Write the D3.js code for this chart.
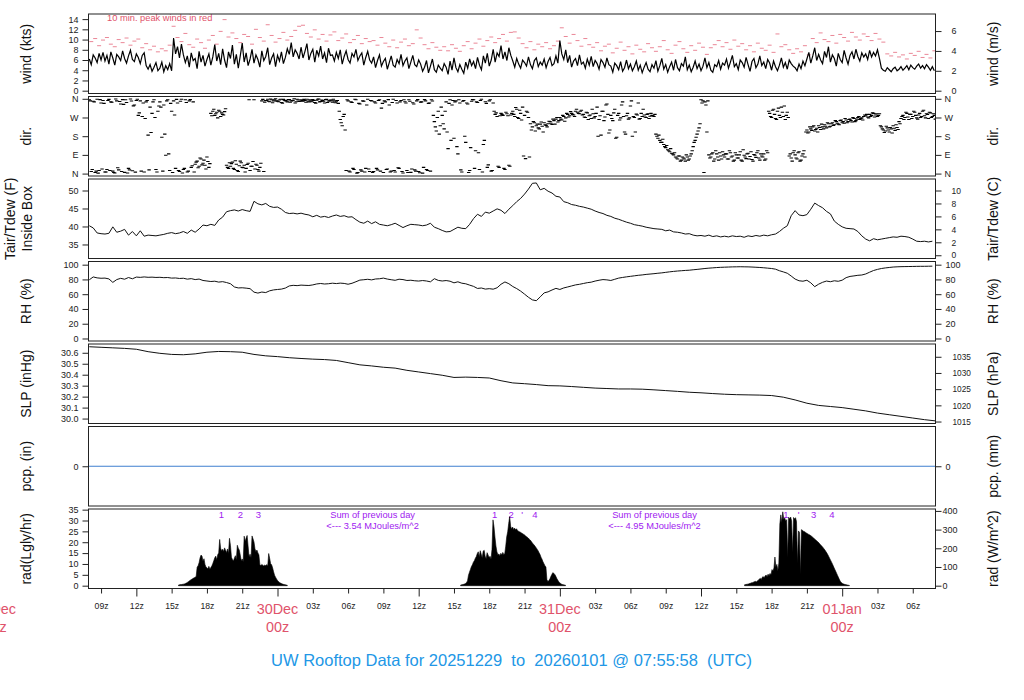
<!DOCTYPE html>
<html>
<head>
<meta charset="utf-8">
<script src="https://cdn.jsdelivr.net/npm/d3@7/dist/d3.min.js"></script>
<style>
html,body{margin:0;padding:0;background:#fff;}
svg{display:block;}
</style>
</head>
<body>
<svg id="chart" width="1024" height="700"></svg>
<script>
// ================= DATA =================
const startTime = "2025-12-29T07:55:58Z";
const endTime   = "2026-01-01T07:55:58Z";
const titleText = "UW Rooftop Data for 20251229  to  20260101 @ 07:55:58  (UTC)";

// wind speed (kts), 10-minute values
const windStart = "2025-12-29T08:00:00Z";
const windStepMin = 10;
const windKts = [
 6.2,5.1,7.0,6.4,5.5,7.3,6.0,7.5,5.8,6.9,5.2,7.6,6.4,5.0,7.1,6.6,5.9,7.8,6.3,5.4,6.8,7.9,6.1,5.7,7.2,6.5,5.3,6.9,7.4,4.9,4.2,5.1,3.8,4.6,5.5,3.9,
 4.4,5.6,3.7,4.9,4.1,5.3,3.9,10.3,7.2,8.6,6.4,9.1,7.0,5.5,6.8,4.6,7.4,5.9,6.3,4.3,7.7,5.6,6.9,4.8,6.1,7.2,5.0,6.6,9.0,5.8,7.3,5.1,8.2,6.0,4.5,7.6,
 6.3,8.9,5.2,7.1,4.4,6.8,9.3,5.6,7.4,4.9,6.2,8.1,5.4,7.0,6.1,4.6,7.8,5.9,6.7,8.4,5.1,6.4,7.2,4.7,6.9,5.8,7.6,5.3,6.5,8.2,7.1,9.4,6.6,8.0,7.3,6.2,
 8.5,6.4,7.7,9.2,6.0,7.3,8.1,5.6,7.9,6.8,8.7,6.2,7.4,5.5,8.3,6.9,7.0,5.8,7.5,6.3,8.0,5.2,6.7,7.8,6.1,5.4,7.3,6.6,8.1,5.9,6.8,7.4,5.0,6.5,7.7,6.0,
 5.4,6.6,4.5,5.9,7.0,4.8,5.7,6.3,4.2,5.5,6.8,5.0,4.6,6.1,5.3,7.1,4.9,5.8,6.4,4.3,5.6,6.9,5.1,4.7,6.0,5.2,3.8,4.6,5.9,3.5,4.8,6.2,4.1,3.6,5.0,4.4,
 3.9,5.3,4.6,3.2,5.8,4.0,6.4,4.5,3.7,5.1,4.2,3.4,5.6,4.4,6.2,4.9,5.7,4.3,6.5,5.0,4.1,6.8,5.4,7.3,4.8,6.0,8.1,5.6,7.4,6.7,8.8,6.2,7.6,5.9,8.4,6.9,
 5.8,4.6,6.3,5.2,4.4,6.0,5.5,4.8,6.6,5.1,4.3,5.9,6.4,4.7,5.6,5.0,6.2,4.5,5.7,6.5,4.9,5.3,6.8,5.4,9.8,7.2,6.1,8.0,5.5,6.9,4.6,5.8,6.3,4.9,7.0,5.2,
 5.6,4.4,6.2,5.0,6.7,4.7,5.9,5.3,4.2,6.1,5.5,4.6,6.4,5.1,4.8,3.6,5.4,4.9,4.1,5.7,3.8,4.5,6.0,4.3,5.2,3.9,4.7,5.8,4.0,5.0,3.5,4.6,5.5,4.2,3.7,5.1,
 4.4,5.9,3.8,4.9,6.3,4.2,5.1,3.6,4.7,5.6,4.0,6.1,4.5,3.9,5.3,4.8,6.6,4.1,5.0,3.7,4.6,5.8,4.3,5.2,3.9,4.8,6.4,4.5,5.5,4.0,3.6,5.1,4.7,5.9,4.2,5.4,
 5.0,6.2,4.4,5.6,6.9,4.7,5.3,4.1,6.0,5.5,4.6,6.5,5.1,3.8,5.7,6.3,4.5,5.2,6.8,4.9,5.6,4.3,6.1,5.4,4.0,5.8,4.7,3.9,5.0,6.4,4.6,5.5,4.2,6.0,5.3,4.8,
 4.5,3.9,5.2,4.3,5.8,4.9,6.2,7.5,5.4,6.8,8.4,5.9,7.1,6.0,5.3,7.7,6.5,8.6,5.6,7.0,6.3,4.8,7.3,6.1,5.5,7.9,6.4,5.2,6.9,7.6,6.2,8.1,6.7,5.8,7.4,6.6,
 7.2,6.1,7.9,6.6,7.5,6.8,8.0,6.3,4.4,4.0,3.8,4.5,4.1,3.7,4.3,4.6,3.9,4.2,4.7,4.0,4.4,4.9,4.1,5.0,4.5,4.2,4.8,5.2,4.4,4.9,4.3,5.1,4.6,4.0,4.7,3.9
];

// 10-minute peak winds (kts), plotted every 20 minutes
const peakStart = "2025-12-29T08:10:00Z";
const peakStepMin = 20;
const peakKts = [
 9.6,10.2,8.8,9.9,10.4,9.1,8.6,10.0,9.4,10.3,8.9,9.7,10.1,8.4,9.2,8.0,8.7,7.6,
 8.2,7.8,8.9,12.6,10.4,9.6,11.2,9.0,8.5,10.1,9.4,8.3,9.9,10.8,9.1,11.6,13.9,10.5,
 11.3,10.2,9.4,11.0,10.6,9.1,12.0,10.4,9.7,12.9,10.8,9.5,10.2,11.4,9.9,10.6,11.8,12.6,
 12.8,11.2,10.5,11.9,10.1,11.0,9.7,10.9,11.5,9.8,10.3,11.1,9.4,10.0,10.8,9.2,10.2,9.6,
 9.8,8.9,10.4,9.3,8.6,9.9,8.4,9.5,10.1,8.8,9.2,11.9,10.3,9.0,8.2,9.4,8.5,7.9,
 8.6,7.8,9.0,8.3,7.7,8.8,9.6,8.2,9.3,10.1,8.7,9.8,10.5,9.4,10.2,11.0,9.7,11.4,
 11.5,10.3,9.2,8.4,9.6,8.0,9.1,8.6,9.4,8.2,8.8,9.7,12.3,10.6,9.3,11.0,9.8,8.7,
 10.2,9.0,8.5,9.4,7.8,8.7,9.1,7.4,8.3,9.5,7.9,8.6,7.2,8.9,8.1,7.6,9.2,8.4,
 7.7,8.6,9.8,8.0,7.3,8.9,9.6,8.2,7.5,8.8,7.9,9.3,8.5,7.1,8.4,9.0,9.8,8.6,
 9.4,8.1,9.9,8.7,9.2,8.0,8.8,7.6,9.3,8.3,7.9,8.9,7.5,11.1,8.6,9.0,8.0,7.3,
 8.2,7.6,8.8,7.0,10.2,9.4,11.3,10.0,9.6,10.8,9.3,11.0,10.4,9.7,11.4,10.5,9.9,11.1,
 10.6,9.8,11.2,10.1,9.5,7.2,6.8,7.5,6.6,7.0,6.2,7.3,6.9,7.7,6.5,7.1,6.4,7.8
];

// wind direction (degrees): 10-minute values and the samples 5 minutes later
const dirStart = "2025-12-29T08:00:00Z";
const dirStart2 = "2025-12-29T08:05:00Z";
const dirStepMin = 10;
const dirDeg = [
 355,10,348,5,358,15,340,352,8,20,357,345,12,3,350,18,335,356,6,342,25,359,14,330,352,280,350,275,8,345,185,320,290,355,20,300,
 345,175,330,88,355,15,300,350,25,340,10,358,20,355,8,350,30,345,45,60,35,70,50,40,80,30,290,300,280,295,305,275,285,298,40,25,
 35,55,20,45,10,60,30,40,25,50,15,35,355,45,20,30,350,10,352,358,346,355,350,360,348,354,342,357,351,345,356,349,353,340,358,347,
 355,348,352,358,345,350,356,342,353,359,347,351,340,357,349,354,344,350,346,338,260,230,285,15,350,8,342,20,355,5,335,12,348,25,358,10,
 350,10,340,18,355,315,5,345,22,330,12,358,8,340,25,352,3,346,15,355,6,341,18,350,10,344,2,356,20,338,12,349,250,205,300,230,
 280,215,345,120,355,330,170,350,95,340,8,352,150,335,15,348,355,110,342,20,358,140,346,30,350,12,340,285,275,30,290,280,20,288,40,282,
 300,275,310,265,290,320,280,300,270,240,225,245,230,220,238,228,245,232,240,250,236,255,262,248,270,258,275,268,285,278,290,282,300,295,288,305,
 285,270,292,278,265,288,275,320,260,185,300,272,335,195,280,255,310,175,290,268,345,200,278,262,325,180,270,286,340,265,275,282,270,288,276,280,
 275,190,170,160,150,140,125,115,105,98,90,80,70,85,65,75,60,80,70,95,130,160,190,220,355,350,345,200,90,80,100,70,95,65,85,105,
 80,95,70,100,85,65,90,75,105,60,88,72,98,82,68,92,78,110,65,85,95,70,100,290,270,310,265,300,280,320,275,260,295,85,75,100,
 90,70,105,65,95,80,210,200,215,225,205,218,230,212,225,235,220,240,228,245,235,250,238,255,245,242,258,250,262,248,265,255,270,260,268,275,
 278,272,285,280,290,282,275,288,225,210,205,220,200,215,230,208,222,250,265,280,270,290,260,285,275,295,268,282,270,300,278,288,265,292,275,280
];
const dirDeg2 = [
 350,20,345,12,2,356,22,338,8,352,15,343,5,359,28,347,10,333,355,3,18,349,326,7,358,292,12,340,265,352,18,198,345,270,8,325,
 320,12,190,350,95,338,5,282,357,15,348,3,25,342,12,356,38,8,55,28,75,42,65,22,58,48,278,310,288,268,300,292,282,312,30,52,
 48,25,62,15,38,52,28,8,44,355,35,58,22,40,12,50,357,344,352,348,359,341,355,350,346,358,339,353,349,356,343,351,360,346,354,348,
 351,357,343,349,355,346,352,339,358,345,354,348,356,342,350,353,358,341,352,300,245,275,210,355,12,345,25,358,2,338,18,350,8,330,22,352,
 5,345,25,352,12,338,350,20,356,8,342,15,352,28,345,10,355,340,5,348,22,335,12,356,4,345,30,350,15,340,355,280,225,270,190,320,
 240,300,200,338,160,352,345,130,355,18,348,180,340,5,125,356,25,345,100,352,8,160,338,42,355,15,300,292,35,278,285,25,295,278,35,290,
 285,318,270,305,258,85,72,295,80,210,250,205,238,215,248,200,235,225,252,242,262,238,270,255,262,280,252,290,272,298,285,275,310,290,300,282,
 272,295,260,282,310,268,290,180,278,300,255,330,285,210,265,292,170,280,258,330,275,190,290,268,350,275,200,282,262,290,310,272,285,265,290,278,
 285,180,185,150,165,130,135,110,120,95,100,75,85,60,80,70,90,65,85,110,150,175,205,240,340,5,330,350,75,95,60,110,80,100,70,90,
 95,70,110,80,60,100,75,90,65,115,80,95,70,105,60,88,100,75,95,80,65,110,300,275,305,285,260,315,270,295,325,280,270,95,60,110,
 75,100,60,85,110,200,195,225,208,230,212,200,222,238,215,228,245,225,240,232,255,242,235,258,250,265,245,260,255,270,250,262,275,265,258,282,
 285,268,275,292,272,288,280,230,215,198,228,210,222,195,218,235,212,240,275,260,295,272,285,265,300,280,262,290,275,305,268,285,295,270,288,262
];

// air temperature (F) and RH (%), 20-minute values
const thermoStart = "2025-12-29T08:00:00Z";
const thermoStepMin = 20;
const tempF = [
 40.2,39.6,38.2,38.0,37.9,38.1,39.9,38.4,38.7,39.2,37.6,38.6,37.4,38.8,37.3,37.6,37.5,37.4,
 37.6,37.8,38.1,38.3,38.0,38.2,38.6,38.1,39.0,38.4,39.3,40.4,40.2,40.6,40.3,41.8,42.6,44.1,
 44.4,44.6,44.3,44.7,44.4,44.2,47.0,46.3,46.0,46.4,45.6,45.3,45.4,44.8,43.9,43.6,43.7,43.5,
 43.7,43.4,43.2,42.7,43.1,42.6,42.8,42.5,42.9,43.2,42.8,43.0,42.6,42.7,41.9,41.2,40.9,41.5,
 40.8,41.3,40.6,40.4,40.2,40.5,40.9,40.3,39.7,40.2,40.6,40.5,40.4,40.2,40.4,40.9,39.8,39.4,
 38.9,38.5,38.6,39.2,39.8,39.5,39.4,40.6,42.2,43.4,42.8,44.0,43.7,44.3,44.9,44.5,43.6,44.8,
 45.8,46.9,47.8,49.0,50.4,52.0,52.1,50.2,50.6,49.8,49.3,48.4,48.2,46.9,46.6,46.1,45.9,45.6,
 45.4,45.1,44.8,44.3,43.9,43.6,43.1,42.8,42.3,42.0,41.6,41.2,40.9,40.5,40.3,40.1,39.8,39.6,
 39.4,39.3,39.2,38.8,39.0,38.5,38.4,38.2,37.9,38.0,37.6,37.4,37.5,37.3,37.6,37.2,37.4,37.1,
 37.3,37.1,37.4,37.2,37.3,37.0,37.4,37.2,37.5,37.3,37.6,37.4,37.7,37.9,38.6,39.5,40.2,43.0,
 44.4,43.2,43.0,43.3,44.8,46.5,45.8,45.2,44.2,43.5,41.5,40.6,39.9,39.5,39.4,39.3,38.6,37.4,
 36.5,36.0,36.6,36.3,36.5,36.7,36.9,37.1,37.0,37.3,37.2,37.0,36.5,35.9,35.8,35.9,35.7,35.9
];
const rhPct = [
 79.5,83.4,82.1,81.6,81.8,80.7,76.0,79.8,81.5,80.3,82.6,80.9,83.2,82.8,83.4,82.9,83.1,82.7,
 82.9,82.4,82.6,81.8,82.0,81.3,81.6,80.4,81.1,79.8,80.5,78.6,77.9,77.2,77.6,76.4,77.0,75.8,
 74.2,69.8,68.5,68.7,68.2,67.5,62.8,61.5,62.9,62.2,64.6,65.8,66.4,66.9,68.3,71.2,72.0,71.6,
 72.3,72.0,71.8,72.6,73.9,74.5,73.8,74.2,74.9,74.4,75.0,74.6,73.5,74.8,76.9,79.1,79.6,80.2,
 79.4,80.6,80.9,81.8,80.5,79.6,78.8,80.3,79.8,78.6,78.9,78.2,77.8,78.5,77.9,76.8,81.0,78.7,
 77.9,78.5,77.6,75.4,76.8,74.9,74.1,72.3,70.6,67.8,68.4,66.9,67.5,66.8,68.7,73.5,76.6,74.2,
 70.4,67.6,64.2,60.1,55.8,52.3,51.2,56.4,61.8,63.2,65.7,67.9,66.4,68.5,69.8,71.2,72.6,73.4,
 74.5,75.6,76.3,77.8,78.9,79.8,79.4,78.6,80.2,81.8,82.7,83.5,84.2,84.9,85.6,86.1,86.8,87.3,
 87.8,88.4,88.9,89.6,90.3,90.9,91.4,91.8,92.2,92.5,93.1,93.6,94.2,94.8,95.3,95.7,96.1,96.4,
 96.6,96.8,97.0,97.1,97.2,97.1,97.0,96.8,96.5,96.2,95.8,95.3,94.8,93.9,91.8,90.2,88.4,84.6,
 80.5,78.2,77.6,78.9,75.4,70.2,73.6,76.1,77.8,76.9,78.2,77.5,79.0,82.4,84.1,84.8,85.6,86.0,
 87.4,89.8,92.1,93.6,94.8,95.6,96.2,96.8,97.1,97.3,97.4,97.5,97.6,97.7,97.8,97.8,97.9,98.0
];

// sea-level pressure (inHg), hourly
const slpStart = "2025-12-29T08:00:00Z";
const slpStepMin = 60;
const slpInHg = [
 30.655,30.65,30.645,30.64,30.632,30.61,30.595,30.585,30.582,30.59,
 30.605,30.612,30.61,30.605,30.585,30.572,30.565,30.555,30.548,30.542,
 30.538,30.53,30.51,30.49,30.48,30.468,30.46,30.44,30.425,30.41,
 30.395,30.375,30.378,30.375,30.37,30.345,30.325,30.318,30.31,30.3,
 30.298,30.292,30.285,30.278,30.274,30.27,30.27,30.268,30.262,30.255,
 30.248,30.24,30.235,30.228,30.222,30.218,30.216,30.214,30.21,30.195,
 30.17,30.14,30.12,30.11,30.1,30.085,30.07,30.05,30.035,30.02,
 30.005,29.99,29.978
];

// precipitation (in)
const pcpTimes = ["2025-12-29T07:55:58Z", "2026-01-01T07:55:58Z"];
const pcpIn = [0, 0];

// solar radiation (Langley/hr), 5-minute values during daylight
const radStepMin = 5;
const radDay1Start = "2025-12-29T15:35:00Z";
const radDay1 = [
 0.3,0.4,0.5,0.5,0.6,0.7,0.8,1.0,1.2,1.5,1.8,2.2,2.5,2.8,3.1,3.4,3.6,3.9,4.2,
 8.5,9.2,10.6,12.8,14.1,13.6,11.2,12.4,9.8,8.6,8.2,7.8,8.9,7.6,8.4,9.1,
 10.2,11.5,12.8,13.6,11.9,14.2,15.1,21.3,17.2,16.1,16.8,15.7,17.4,16.3,15.2,16.9,14.8,
 21.8,18.5,13.1,12.1,11.4,12.6,13.8,11.9,18.6,17.2,16.4,14.1,11.5,12.3,11.1,
 22.8,20.4,21.9,23.1,18.2,13.2,14.5,12.8,22.9,21.6,20.1,17.0,15.6,16.4,15.1,14.2,
 9.6,9.3,9.8,9.4,9.1,9.5,9.2,9.7,9.0,14.8,12.6,10.1,9.6,8.2,6.4,
 4.8,3.9,3.1,2.4,1.9,1.5,1.2,1.0,0.8,0.6,0.5,0.4,0.3,0.2
];
const radDay2Start = "2025-12-30T15:34:00Z";
const radDay2 = [
 0.3,0.4,0.5,0.6,0.8,1.0,1.5,2.2,4.8,6.2,7.5,8.8,9.6,10.8,11.5,12.6,13.4,
 14.8,15.6,13.2,16.1,14.5,12.8,15.9,16.3,13.6,12.4,15.2,14.1,13.0,13.5,12.2,16.8,
 30.3,27.2,22.4,18.3,15.6,14.2,14.6,13.8,14.9,14.1,15.3,14.4,14.7,18.2,22.5,24.8,28.6,
 31.8,27.4,26.1,27.0,25.9,26.5,25.7,26.2,25.4,25.1,24.8,24.6,24.3,24.0,23.7,23.4,23.0,22.6,22.3,21.9,21.4,21.0,
 20.4,19.8,19.2,18.7,18.1,17.5,16.8,16.1,15.2,14.3,13.1,12.2,11.0,10.1,9.2,8.6,
 2.8,1.9,2.4,3.1,4.2,5.1,6.0,5.7,5.2,4.4,3.4,2.6,1.9,1.4,1.0,0.7,0.5,0.4,0.3,0.2
];
const radDay3Start = "2025-12-31T15:42:00Z";
const radDay3 = [
 0.4,0.5,0.6,0.7,0.8,1.0,1.1,1.3,1.4,1.6,1.8,2.0,1.7,2.2,2.5,
 3.0,3.4,2.9,3.8,4.2,3.6,4.5,4.9,4.1,5.3,4.6,5.6,5.0,7.4,6.8,8.1,13.2,8.6,9.8,6.9,10.4,
 28.4,32.6,29.1,34.0,30.6,31.2,29.8,30.4,13.1,31.5,30.8,31.6,29.9,15.2,31.4,30.7,31.3,29.6,10.3,
 25.2,24.6,5.2,25.8,25.5,25.1,24.9,24.6,24.3,24.0,23.7,23.5,23.2,
 22.9,22.5,22.1,21.7,21.3,20.9,20.5,20.1,19.6,19.1,18.6,18.1,17.6,17.0,16.4,15.7,15.0,
 14.2,13.3,12.4,11.5,10.6,9.6,8.6,7.6,6.6,5.6,4.6,3.6,2.6,1.8,1.3,1.0,0.8,0.6,0.5,0.4,0.3,0.2,0.1
];

const radMarkTimes = [
 "2025-12-29T19:14:00Z","2025-12-29T20:51:00Z","2025-12-29T22:22:00Z",
 "2025-12-30T18:27:00Z","2025-12-30T19:52:00Z","2025-12-30T20:48:00Z","2025-12-30T21:53:00Z",
 "2025-12-31T19:13:00Z","2025-12-31T20:18:00Z","2025-12-31T21:34:00Z","2025-12-31T23:08:00Z"
];
const radMarkText = ["1","2","3","1","2","'","4","1","'","3","4"];
const sumTimes = ["2025-12-30T08:05:00Z", "2025-12-31T08:03:00Z"];
const sumHeader = "Sum of previous day";
const sumTexts = ["<--- 3.54 MJoules/m^2", "<--- 4.95 MJoules/m^2"];

// axis ticks / labels
const windTicks = [0,2,4,6,8,10,12,14];
const msTicks = [0,2,4,6];
const dirTicks = [0,90,180,270,360];
const dirTickLabels = ["N","E","S","W","N"];
const tempTicksF = [35,40,45,50];
const tempTicksC = [0,2,4,6,8,10];
const rhTicks = [0,20,40,60,80,100];
const slpTicks = [30.0,30.1,30.2,30.3,30.4,30.5,30.6];
const hpaTicks = [1015,1020,1025,1030,1035];
const pcpTicks = [0];
const radTicksLy = [0,5,10,15,20,25,30,35];
const radTicksW = [0,100,200,300,400];
const dayTimes = ["2025-12-29T00:00:00Z","2025-12-30T00:00:00Z","2025-12-31T00:00:00Z","2026-01-01T00:00:00Z"];
const dayLabels = ["29Dec","30Dec","31Dec","01Jan"];
const leftLabels = [["wind (kts)"],["dir."],["Tair/Tdew (F)","Inside Box"],["RH (%)"],["SLP (inHg)"],["pcp. (in)"],["rad(Lgly/hr)"]];
const rightLabels = ["wind (m/s)","dir.","Tair/Tdew (C)","RH (%)","SLP (hPa)","pcp. (mm)","rad (W/m^2)"];
const peakNote = "10 min. peak winds in red";

// ================= DRAWING =================
const FONT = "'Liberation Sans', Arial, Helvetica, sans-serif";
const RED = "#DF536B", BLUE = "#2297E6", PURPLE = "#A020F0";
const X0 = 88.5, X1 = 935.5, PH = 79.5;
const svg = d3.select("#chart");
svg.append("rect").attr("width",1024).attr("height",700).attr("fill","#fff");

const x = d3.scaleUtc().domain([new Date(startTime), new Date(endTime)]).range([X0, X1]);
const tAt = (start, stepMin, i) => new Date(+new Date(start) + i * stepMin * 60000);
const series = (start, step, arr) => arr.map((v, i) => ({t: tAt(start, step, i), v}));

function makePanel(k, domain) {
  const top = 14 + 82.5 * k;
  const y = d3.scaleLinear().domain(domain).range([top + PH, top]);
  const g = svg.append("g");
  const cid = "clip" + k;
  svg.append("clipPath").attr("id", cid).append("rect")
    .attr("x", X0).attr("y", top).attr("width", X1 - X0).attr("height", PH);
  const plot = g.append("g").attr("clip-path", `url(#${cid})`);
  return {k, top, y, g, plot};
}
function frame(p) {
  p.g.append("rect").attr("x", X0).attr("y", p.top).attr("width", X1 - X0).attr("height", PH)
    .attr("fill", "none").attr("stroke", "#222").attr("stroke-width", 1);
}
function styleAxis(a, fs) {
  a.select(".domain").remove();
  a.selectAll("text").attr("font-size", fs).attr("font-family", FONT).attr("fill", "#222");
  a.selectAll("line").attr("stroke", "#222");
}
function leftAxis(p, vals, fmt, fs = 9) {
  const ax = d3.axisLeft(p.y).tickValues(vals).tickFormat(fmt).tickSize(6).tickPadding(4);
  const a = p.g.append("g").attr("transform", `translate(${X0},0)`).call(ax);
  styleAxis(a, fs);
}
function rightAxis(p, toRight, vals, fmt, pad, fs = 9) {
  const d = p.y.domain();
  const y2 = d3.scaleLinear().domain([toRight(d[0]), toRight(d[1])]).range(p.y.range());
  const ax = d3.axisRight(y2).tickValues(vals).tickFormat(fmt).tickSize(6).tickPadding(pad);
  const a = p.g.append("g").attr("transform", `translate(${X1},0)`).call(ax);
  styleAxis(a, fs);
}
function sideLabels(p) {
  const cy = p.top + PH / 2;
  const L = leftLabels[p.k];
  const bxs = L.length === 1 ? [31] : [14.5, 32];
  L.forEach((s, i) => {
    p.g.append("text").attr("transform", `translate(${bxs[i]},${cy}) rotate(-90)`)
      .attr("text-anchor", "middle").attr("font-family", FONT).attr("font-size", 14)
      .attr("fill", "#111").text(s);
  });
  p.g.append("text").attr("transform", `translate(998,${cy}) rotate(-90)`)
    .attr("text-anchor", "middle").attr("font-family", FONT).attr("font-size", 14)
    .attr("fill", "#111").text(rightLabels[p.k]);
}
const fmt1 = d => String(d);

// ---- 1. wind ----
{
  const p = makePanel(0, [-0.55, 15.0]);
  const pk = series(peakStart, peakStepMin, peakKts);
  p.plot.selectAll("line.pk").data(pk).join("line")
    .attr("x1", d => x(d.t) - 2).attr("x2", d => x(d.t) + 2)
    .attr("y1", d => p.y(d.v)).attr("y2", d => p.y(d.v))
    .attr("stroke", "#E8798B").attr("stroke-width", 0.9);
  const w = series(windStart, windStepMin, windKts);
  p.plot.append("path").datum(w)
    .attr("d", d3.line().x(d => x(d.t)).y(d => p.y(d.v)))
    .attr("fill", "none").attr("stroke", "#000").attr("stroke-width", 1.2);
  p.g.append("text").attr("x", 107).attr("y", p.top + 7).attr("font-family", FONT)
    .attr("font-size", 9.3).attr("fill", RED).text(peakNote);
  frame(p);
  leftAxis(p, windTicks, fmt1);
  rightAxis(p, v => v / 1.94384, msTicks, fmt1, 10);
  sideLabels(p);
}
// ---- 2. direction ----
{
  const p = makePanel(1, [-11.6, 371]);
  const dd = series(dirStart, dirStepMin, dirDeg).concat(series(dirStart2, dirStepMin, dirDeg2));
  p.plot.selectAll("line.dir").data(dd).join("line")
    .attr("x1", d => x(d.t) - 1.7).attr("x2", d => x(d.t) + 1.7)
    .attr("y1", d => p.y(d.v)).attr("y2", d => p.y(d.v))
    .attr("stroke", "#000").attr("stroke-width", 1.1);
  frame(p);
  leftAxis(p, dirTicks, (d, i) => dirTickLabels[i]);
  rightAxis(p, v => v, dirTicks, (d, i) => dirTickLabels[i], 3);
  sideLabels(p);
}
// ---- 3. temperature ----
{
  const p = makePanel(2, [31.1, 53.2]);
  const tt = series(thermoStart, thermoStepMin, tempF);
  p.plot.append("path").datum(tt)
    .attr("d", d3.line().x(d => x(d.t)).y(d => p.y(d.v)))
    .attr("fill", "none").attr("stroke", "#111").attr("stroke-width", 1);
  frame(p);
  leftAxis(p, tempTicksF, fmt1);
  rightAxis(p, v => (v - 32) / 1.8, tempTicksC, fmt1, 10, 8.5);
  sideLabels(p);
}
// ---- 4. RH ----
{
  const p = makePanel(3, [-3.4, 104.3]);
  const rr = series(thermoStart, thermoStepMin, rhPct);
  p.plot.append("path").datum(rr)
    .attr("d", d3.line().x(d => x(d.t)).y(d => p.y(d.v)))
    .attr("fill", "none").attr("stroke", "#111").attr("stroke-width", 1);
  frame(p);
  leftAxis(p, rhTicks, fmt1);
  rightAxis(p, v => v, rhTicks, fmt1, 4);
  sideLabels(p);
}
// ---- 5. SLP ----
{
  const p = makePanel(4, [29.955, 30.68]);
  const ss = series(slpStart, slpStepMin, slpInHg);
  p.plot.append("path").datum(ss)
    .attr("d", d3.line().x(d => x(d.t)).y(d => p.y(d.v)))
    .attr("fill", "none").attr("stroke", "#111").attr("stroke-width", 1);
  frame(p);
  leftAxis(p, slpTicks, d3.format(".1f"));
  rightAxis(p, v => v * 33.8639, hpaTicks, fmt1, 11, 8.3);
  sideLabels(p);
}
// ---- 6. precipitation ----
{
  const p = makePanel(5, [-1, 1]);
  const pp = pcpTimes.map((t, i) => ({t: new Date(t), v: pcpIn[i]}));
  p.plot.append("path").datum(pp)
    .attr("d", d3.line().x(d => x(d.t)).y(d => p.y(d.v)))
    .attr("fill", "none").attr("stroke", "#3F7FCF").attr("stroke-width", 1.2);
  frame(p);
  leftAxis(p, pcpTicks, fmt1);
  rightAxis(p, v => v * 25.4, pcpTicks, fmt1, 4);
  sideLabels(p);
}
// ---- 7. radiation ----
{
  const p = makePanel(6, [-1.3, 35.3]);
  p.plot.selectAll("text.mk").data(radMarkTimes).join("text")
    .attr("x", d => x(new Date(d))).attr("y", p.top + 9)
    .attr("text-anchor", "middle").attr("font-family", FONT).attr("font-size", 9.5)
    .attr("fill", PURPLE).text((d, i) => radMarkText[i]);
  sumTimes.forEach((t, i) => {
    const cx = x(new Date(t));
    p.plot.append("text").attr("x", cx).attr("y", p.top + 9).attr("text-anchor", "middle")
      .attr("font-family", FONT).attr("font-size", 9.3).attr("fill", PURPLE).text(sumHeader);
    p.plot.append("text").attr("x", cx).attr("y", p.top + 20).attr("text-anchor", "middle")
      .attr("font-family", FONT).attr("font-size", 9.3).attr("fill", PURPLE).text(sumTexts[i]);
  });
  const area = d3.area().x(d => x(d.t)).y0(p.y(0)).y1(d => p.y(d.v));
  [[radDay1Start, radDay1], [radDay2Start, radDay2], [radDay3Start, radDay3]].forEach(([s, arr]) => {
    p.plot.append("path").datum(series(s, radStepMin, arr))
      .attr("d", area).attr("fill", "#000").attr("stroke", "#000").attr("stroke-width", 0.6);
  });
  frame(p);
  leftAxis(p, radTicksLy, fmt1);
  rightAxis(p, v => v * 11.622, radTicksW, fmt1, 1);
  sideLabels(p);

  // time axis
  const bottom = p.top + PH;
  const xt = d3.utcHour.every(3).range(new Date(startTime), new Date(endTime));
  const xa = d3.axisBottom(x).tickValues(xt)
    .tickFormat(d => d.getUTCHours() === 0 ? "" : d3.utcFormat("%Hz")(d))
    .tickSize(5).tickPadding(9).tickSizeOuter(0);
  const xg = svg.append("g").attr("transform", `translate(0,${bottom})`).call(xa);
  xg.select(".domain").remove();
  xg.selectAll(".tick line").attr("stroke", "#222").attr("y2", d => d.getUTCHours() % 12 === 0 ? 8 : 5);
  xg.selectAll("text").attr("font-family", FONT).attr("font-size", 8.7).attr("fill", "#222");
  // day labels (the first one sits at the left page edge, partly cut, as in the original)
  dayTimes.forEach((t, i) => {
    const cx = x(new Date(t));
    svg.append("text").attr("x", cx).attr("y", 614).attr("text-anchor", "middle")
      .attr("font-family", FONT).attr("font-size", 14.4).attr("fill", RED).text(dayLabels[i]);
    svg.append("text").attr("x", cx).attr("y", 632).attr("text-anchor", "middle")
      .attr("font-family", FONT).attr("font-size", 14.4).attr("fill", RED).text("00z");
  });
}
// title
svg.append("text").attr("x", 511.5).attr("y", 665.5).attr("text-anchor", "middle")
  .attr("font-family", FONT).attr("font-size", 16.5).attr("fill", BLUE)
  .attr("xml:space", "preserve").style("white-space", "pre").text(titleText);
</script>
</body>
</html>
